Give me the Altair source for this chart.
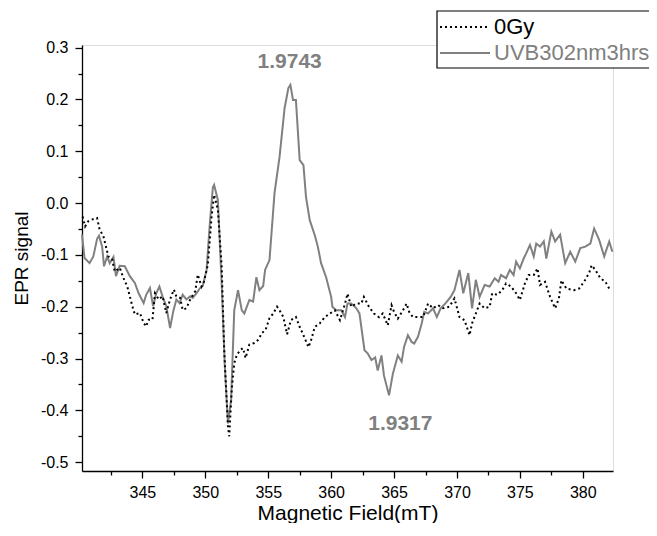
import altair as alt
import pandas as pd

# ---- data ----
series_names = ["0Gy", "UVB302nm3hrs"]

field_uvb = [340.2, 340.4, 340.8, 341.1, 341.4, 341.55, 341.8, 341.95, 342.2, 342.4, 342.7, 342.9,
             343.2, 343.6, 344.0, 344.4, 344.7, 345.1, 345.3, 345.6, 345.85, 346.1, 346.35, 346.6,
             346.9, 347.2, 347.45, 347.7, 347.95, 348.2, 348.5, 348.8, 349.0, 349.3, 349.55, 349.8,
             350.1, 350.36, 350.6, 350.7, 351.0, 351.3, 351.55, 351.8, 352.05, 352.3, 352.6, 352.9,
             353.1, 353.5, 353.8, 354.06, 354.3, 354.6, 354.75, 355.1, 355.5, 355.9, 356.3, 356.6,
             356.76, 356.97, 357.2, 357.5, 357.8, 358.0, 358.3, 358.7, 358.95, 359.2, 359.6, 360.0,
             360.1, 360.4, 360.8, 361.1, 361.3, 361.6, 362.0, 362.25, 362.65, 362.9, 363.2, 363.5,
             363.7, 364.0, 364.2, 364.6, 364.9, 365.3, 365.6, 365.8, 366.1, 366.4, 366.6, 366.9,
             367.2, 367.4, 367.7, 368.1, 368.4, 368.7, 369.1, 369.5, 369.8, 370.2, 370.5, 370.9,
             371.2, 371.5, 371.8, 372.2, 372.6, 373.0, 373.3, 373.5, 373.9, 374.2, 374.5, 374.7,
             375.0, 375.3, 375.5, 375.8, 376.1, 376.3, 376.6, 376.9, 377.1, 377.5, 377.8, 378.2,
             378.6, 379.0, 379.4, 379.8, 380.2, 380.6, 380.9, 381.3, 381.7, 382.1, 382.35]
signal_uvb = [-0.061, -0.106, -0.116, -0.103, -0.069, -0.063, -0.084, -0.122, -0.103, -0.116, -0.104, -0.141,
              -0.121, -0.122, -0.141, -0.154, -0.174, -0.193, -0.177, -0.164, -0.199, -0.174, -0.161, -0.180,
              -0.199, -0.241, -0.209, -0.186, -0.193, -0.177, -0.186, -0.180, -0.183, -0.174, -0.165, -0.160,
              -0.129, -0.039, 0.030, 0.035, 0.006, -0.155, -0.316, -0.425, -0.380, -0.207, -0.168, -0.207,
              -0.213, -0.187, -0.190, -0.143, -0.168, -0.160, -0.129, -0.110, 0.019, 0.089, 0.183, 0.222,
              0.228, 0.199, 0.199, 0.083, 0.073, 0.012, -0.033, -0.062, -0.085, -0.116, -0.143, -0.181,
              -0.200, -0.207, -0.207, -0.220, -0.194, -0.194, -0.203, -0.213, -0.284, -0.290, -0.303, -0.298,
              -0.323, -0.294, -0.333, -0.371, -0.330, -0.294, -0.306, -0.277, -0.255, -0.268, -0.271, -0.258,
              -0.232, -0.210, -0.213, -0.203, -0.220, -0.203, -0.193, -0.181, -0.168, -0.129, -0.174, -0.135,
              -0.203, -0.148, -0.181, -0.158, -0.161, -0.145, -0.152, -0.139, -0.145, -0.129, -0.139, -0.113,
              -0.126, -0.107, -0.097, -0.081, -0.103, -0.078, -0.084, -0.074, -0.107, -0.055, -0.074, -0.061,
              -0.116, -0.094, -0.113, -0.087, -0.084, -0.078, -0.049, -0.071, -0.103, -0.074, -0.094]

field_0gy = [340.25, 340.45, 340.7, 340.96, 341.4, 341.6, 341.9, 342.1, 342.3, 342.6, 342.8, 343.2,
             343.5, 343.8, 344.0, 344.2, 344.4, 344.8, 345.1, 345.3, 345.5, 345.8, 346.0, 346.3,
             346.6, 346.9, 347.2, 347.5, 347.7, 348.0, 348.2, 348.5, 348.8, 349.2, 349.4, 349.7,
             349.9, 350.2, 350.5, 350.7, 351.0, 351.3, 351.5, 351.8, 351.9, 352.1, 352.3, 352.5,
             352.8, 353.0, 353.2, 353.5, 353.9, 354.2, 354.5, 354.8, 355.1, 355.4, 355.7, 355.9,
             356.2, 356.5, 356.8, 357.2, 357.5, 357.8, 358.2, 358.4, 358.7, 359.1, 359.5, 359.9,
             360.3, 360.7, 361.1, 361.3, 361.6, 362.0, 362.4, 362.6, 363.0, 363.4, 363.8, 364.1,
             364.5, 364.8, 365.0, 365.3, 365.7, 366.0, 366.2, 366.5, 366.9, 367.3, 367.7, 368.1,
             368.5, 368.9, 369.4, 369.8, 370.2, 370.6, 371.0, 371.2, 371.5, 371.8, 372.2, 372.6,
             372.8, 373.2, 373.6, 373.9, 374.3, 374.7, 375.0, 375.4, 375.7, 376.1, 376.4, 376.6,
             377.0, 377.4, 377.8, 378.1, 378.3, 378.7, 379.3, 379.7, 380.1, 380.5, 380.7, 381.0,
             381.4, 381.8, 382.1, 382.3]
signal_0gy = [-0.026, -0.045, -0.035, -0.032, -0.029, -0.051, -0.064, -0.084, -0.103, -0.109, -0.132, -0.125,
              -0.145, -0.161, -0.180, -0.199, -0.215, -0.212, -0.231, -0.238, -0.225, -0.225, -0.174, -0.186,
              -0.180, -0.212, -0.186, -0.167, -0.180, -0.183, -0.206, -0.203, -0.186, -0.170, -0.138, -0.161,
              -0.151, -0.119, -0.026, 0.016, -0.013, -0.122, -0.283, -0.431, -0.450, -0.360, -0.309, -0.293,
              -0.283, -0.280, -0.299, -0.273, -0.270, -0.264, -0.251, -0.244, -0.222, -0.213, -0.200, -0.207,
              -0.220, -0.253, -0.226, -0.220, -0.239, -0.255, -0.278, -0.265, -0.239, -0.232, -0.220, -0.213,
              -0.207, -0.226, -0.194, -0.175, -0.200, -0.194, -0.194, -0.181, -0.200, -0.213, -0.220, -0.213,
              -0.236, -0.197, -0.210, -0.223, -0.207, -0.194, -0.210, -0.220, -0.220, -0.220, -0.194, -0.203,
              -0.197, -0.203, -0.200, -0.184, -0.220, -0.226, -0.255, -0.232, -0.213, -0.194, -0.203, -0.200,
              -0.174, -0.177, -0.168, -0.155, -0.161, -0.174, -0.187, -0.155, -0.139, -0.139, -0.126, -0.158,
              -0.152, -0.181, -0.203, -0.184, -0.149, -0.165, -0.168, -0.165, -0.152, -0.135, -0.120, -0.129,
              -0.145, -0.152, -0.165, -0.168]

ann_text = ["1.9743", "1.9317"]
ann_field = [356.7, 365.5]
ann_signal = [0.272, -0.426]

x_major = [345, 350, 355, 360, 365, 370, 375, 380]
x_minor = [342.5, 347.5, 352.5, 357.5, 362.5, 367.5, 372.5, 377.5]
y_major = [-0.5, -0.4, -0.3, -0.2, -0.1, 0.0, 0.1, 0.2, 0.3]
y_minor = [-0.45, -0.35, -0.25, -0.15, -0.05, 0.05, 0.15, 0.25]

FONT = "Liberation Sans, Arial, sans-serif"
GRAY = "#808080"

df_uvb = pd.DataFrame({"field": field_uvb, "signal": signal_uvb})
df_0gy = pd.DataFrame({"field": field_0gy, "signal": signal_0gy})
df_ann = pd.DataFrame({"field": ann_field, "signal": ann_signal, "text": ann_text})

xscale = alt.Scale(domain=[340.2, 382.4], nice=False, zero=False)
yscale = alt.Scale(domain=[-0.517, 0.305], nice=False, zero=False)

common = dict(grid=False, domainColor="black", tickColor="black", labelColor="black",
              domainWidth=1.3, tickWidth=1.3, labelFont=FONT, labelFontSize=16,
              titleFont=FONT, titleFontWeight="normal", titleColor="black",
              labelFlush=False, labelOverlap=False, labelBound=False)

xaxis = alt.Axis(title="Magnetic Field(mT)", values=x_major, format=".0f", tickSize=7,
                 labelPadding=6, titleFontSize=21, titlePadding=2, orient="bottom", **common)
yaxis = alt.Axis(title="EPR signal", values=y_major, tickSize=7,
                 labelExpr="(datum.value < -0.001 ? '-' : '') + format(abs(datum.value), '.1f')",
                 labelPadding=7, titleFontSize=19, titlePadding=9, orient="left", **common)

xaxis_minor = alt.Axis(title=None, values=x_minor, labels=False, domain=False, tickSize=4,
                       tickColor="black", tickWidth=1.3, grid=False, orient="bottom")
yaxis_minor = alt.Axis(title=None, values=y_minor, labels=False, domain=False, tickSize=4,
                       tickColor="black", tickWidth=1.3, grid=False, orient="left")

uvb_line = alt.Chart(df_uvb).mark_line(color=GRAY, strokeWidth=2).encode(
    x=alt.X("field:Q", scale=xscale, axis=xaxis),
    y=alt.Y("signal:Q", scale=yscale, axis=yaxis),
)
minor_ticks = alt.Chart(df_uvb).mark_line(opacity=0).encode(
    x=alt.X("field:Q", scale=xscale, axis=xaxis_minor),
    y=alt.Y("signal:Q", scale=yscale, axis=yaxis_minor),
)
gy_line = alt.Chart(df_0gy).mark_line(color="black", strokeWidth=2, strokeDash=[2, 3]).encode(
    x=alt.X("field:Q", scale=xscale, axis=None),
    y=alt.Y("signal:Q", scale=yscale, axis=None),
)
ann = alt.Chart(df_ann).mark_text(font=FONT, fontSize=21, fontWeight="bold", color=GRAY,
                                  baseline="middle", align="center").encode(
    x=alt.X("field:Q", scale=xscale, axis=None),
    y=alt.Y("signal:Q", scale=yscale, axis=None),
    text="text:N",
)

one = pd.DataFrame({"k": [0]})
leg_box = alt.Chart(one).mark_rect(fill="white", stroke="black", strokeWidth=1.2).encode(
    x=alt.value(355), x2=alt.value(590), y=alt.value(-34), y2=alt.value(23))
leg_line1 = alt.Chart(one).mark_rule(color="black", strokeWidth=2, strokeDash=[2, 3]).encode(
    x=alt.value(358), x2=alt.value(408), y=alt.value(-18))
leg_line2 = alt.Chart(one).mark_rule(color=GRAY, strokeWidth=2).encode(
    x=alt.value(358), x2=alt.value(408), y=alt.value(8))
leg_t1 = alt.Chart(one).mark_text(font=FONT, fontSize=22, color="black", align="left",
                                  baseline="middle").encode(
    x=alt.value(412), y=alt.value(-18), text=alt.value(series_names[0]))
leg_t2 = alt.Chart(one).mark_text(font=FONT, fontSize=22, color=GRAY, align="left",
                                  baseline="middle").encode(
    x=alt.value(412), y=alt.value(8), text=alt.value(series_names[1]))

chart = alt.layer(uvb_line, minor_ticks, gy_line, ann, leg_box, leg_line1, leg_line2,
                  leg_t1, leg_t2).resolve_axis(x="independent", y="independent").properties(
    width=531, height=426,
    autosize=alt.AutoSizeParams(type="none"),
    padding={"left": 74, "top": 37, "right": 36, "bottom": 52},
).configure_view(stroke=None).configure(background="white")

chart.save("out.html", embed_options={"renderer": "svg", "actions": False})
